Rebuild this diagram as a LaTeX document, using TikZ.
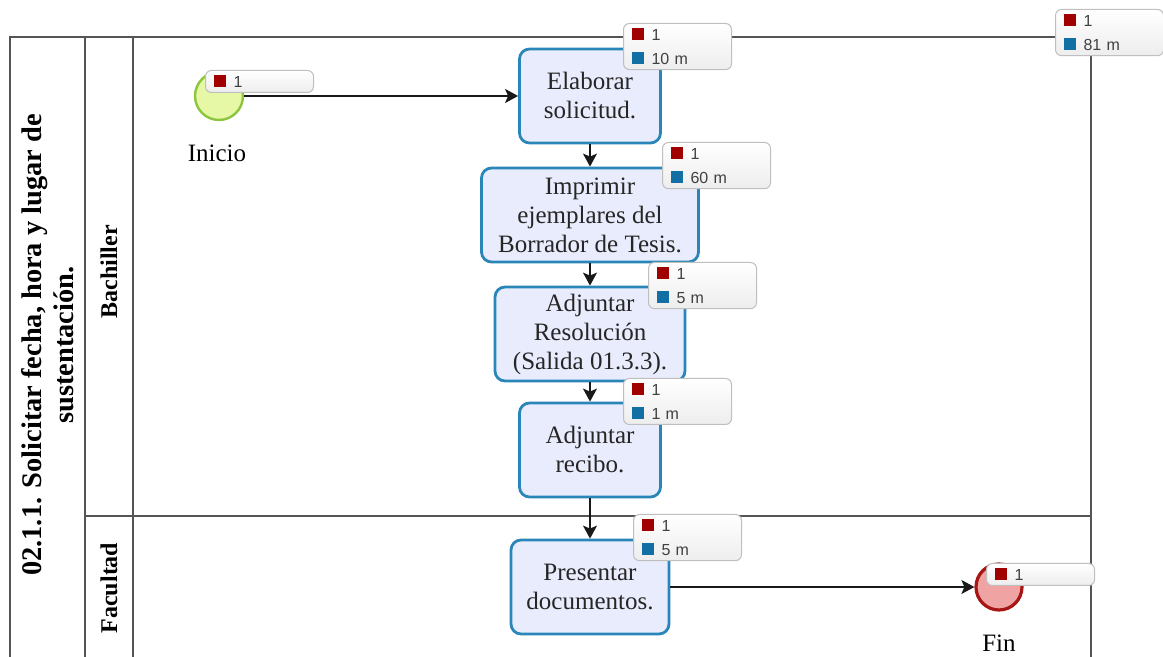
\documentclass[tikz,border=0pt]{standalone}
\usepackage{fontspec}
\setmainfont{Liberation Serif}
\newfontfamily\cuentafont{Liberation Sans}
\usetikzlibrary{arrows.meta,positioning}

\definecolor{tareafondo}{HTML}{E9ECFC}
\definecolor{tareaborde}{HTML}{2A86B8}
\definecolor{iniciofondo}{HTML}{E6F7A6}
\definecolor{inicioborde}{HTML}{8CC63F}
\definecolor{finfondo}{HTML}{EFA3A3}
\definecolor{finborde}{HTML}{A81515}
\definecolor{cuentarojo}{HTML}{A00000}
\definecolor{cuentaazul}{HTML}{116FA3}
\definecolor{carril}{HTML}{555555}

\newcommand{\rojo}{\textcolor{cuentarojo}{\rule{6pt}{6pt}}\hspace{4pt}}
\newcommand{\azul}{\textcolor{cuentaazul}{\rule{6pt}{6pt}}\hspace{4pt}}

\tikzset{
  carril/.style={draw=carril, line width=0.8pt},
  tarea/.style={draw=tareaborde, line width=1.4pt, fill=tareafondo, rounded corners=5pt,
    align=center, minimum height=47pt, inner sep=2pt, text=black!85,
    font=\fontsize{12.5}{14.5}\selectfont},
  marca/.style={draw=black!25, line width=0.5pt, rounded corners=3pt, top color=white,
    bottom color=black!7, anchor=north west, minimum width=54pt, text width=46pt,
    align=left, inner xsep=4pt, inner ysep=2.5pt, text=black!75,
    font=\cuentafont\fontsize{8}{12}\selectfont},
  flujo/.style={draw=black!90, line width=0.9pt, -{Stealth[length=6.5pt,width=7pt,inset=1.5pt]}},
  rotulo/.style={rotate=90, font=\bfseries\fontsize{12}{14}\selectfont}
}

\begin{document}
\begin{tikzpicture}[x=0.5pt,y=-0.5pt]
  \useasboundingbox (0,0) rectangle (1163,657);
  \clip (0,0) rectangle (1163,657);

  % pool and lanes
  \draw[carril] (10,657) -- (10,37) -- (1091,37) -- (1091,657);
  \draw[carril] (85,37) -- (85,657);
  \draw[carril] (133,37) -- (133,657);
  \draw[carril] (85,516) -- (1091,516);

  \node[rotate=90, align=center, font=\bfseries\fontsize{14.2}{16}\selectfont] (proceso) at (48,345)
    {02.1.1. Solicitar fecha, hora y lugar de\\sustentación.};
  \node[rotulo] (bachiller) at (109,272) {Bachiller};
  \node[rotulo] (facultad) at (109,588) {Facultad};

  % events
  \node[circle, draw=inicioborde, fill=iniciofondo, line width=1.2pt, minimum size=24pt] (inicio) at (219,96) {};
  \node[font=\fontsize{12.5}{14.5}\selectfont] at (217,153) {Inicio};
  \node[circle, draw=finborde, fill=finfondo, line width=1.6pt, minimum size=23pt] (fin) at (999,587) {};
  \node[font=\fontsize{12.5}{14.5}\selectfont] at (999,643) {Fin};

  % tasks
  \node[tarea, minimum width=70.5pt] (elaborar) at (590,96) {Elaborar\\solicitud.};
  \node[tarea, minimum width=108.5pt] (imprimir) at (590,215) {Imprimir\\ejemplares del\\Borrador de Tesis.};
  \node[tarea, minimum width=95pt] (resolucion) at (590,334) {Adjuntar\\Resolución\\(Salida 01.3.3).};
  \node[tarea, minimum width=70.5pt] (recibo) at (590,450) {Adjuntar\\recibo.};
  \node[tarea, minimum width=79pt] (presentar) at (590,587) {Presentar\\documentos.};

  % sequence flow
  \draw[flujo] (inicio) -- (elaborar);
  \draw[flujo] (elaborar) -- (imprimir);
  \draw[flujo] (imprimir) -- (resolucion);
  \draw[flujo] (resolucion) -- (recibo);
  \draw[flujo] (recibo) -- (presentar);
  \draw[flujo] (presentar) -- (fin);

  % counts and times
  \node[marca] (m-inicio) at (205,70) {\rojo 1};
  \node[marca] (m-elaborar) at (623,23) {\rojo 1\\\azul 10 m};
  \node[marca] (m-imprimir) at (662,142) {\rojo 1\\\azul 60 m};
  \node[marca] (m-resolucion) at (648,262) {\rojo 1\\\azul 5 m};
  \node[marca] (m-recibo) at (623,378) {\rojo 1\\\azul 1 m};
  \node[marca] (m-presentar) at (633,514) {\rojo 1\\\azul 5 m};
  \node[marca] (m-fin) at (986,563) {\rojo 1};
  \node[marca] (m-total) at (1055,9) {\rojo 1\\\azul 81 m};
\end{tikzpicture}
\end{document}
